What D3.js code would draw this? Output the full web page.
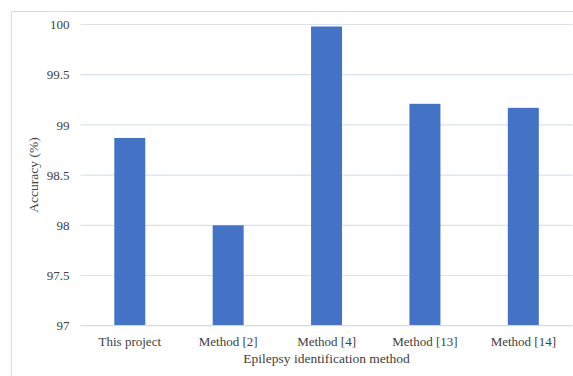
<!DOCTYPE html>
<html>
<head>
<meta charset="utf-8">
<script src="https://cdn.jsdelivr.net/npm/d3@7"></script>
<style>
  html, body { margin: 0; padding: 0; background: #fff; }
  svg { display: block; }
</style>
</head>
<body>
<svg id="chart" width="573" height="376"></svg>
<script>
// Accuracy of epilepsy identification methods
const categories = ["This project", "Method [2]", "Method [4]", "Method [13]", "Method [14]"];
const accuracy = [98.87, 98.0, 99.98, 99.21, 99.17];
const yTicks = [97, 97.5, 98, 98.5, 99, 99.5, 100];

const width = 573, height = 376;
const margin = { top: 24.5, right: 0.5, bottom: 50.3, left: 80.6 };
const FONT = "'Liberation Serif', 'Times New Roman', serif";
const TEXT_COLOR = "#404040";
const svg = d3.select("#chart");

// chart frame
svg.append("path")
  .attr("d", `M11.5,${height} V11.5 H${width}`)
  .attr("fill", "none")
  .attr("stroke", "#d9d9d9")
  .attr("stroke-width", 1);

const x = d3.scaleBand()
  .domain(categories)
  .range([margin.left, width - margin.right])
  .paddingInner(0.685)
  .paddingOuter(0.3425);

const y = d3.scaleLinear()
  .domain([97, 100])
  .range([height - margin.bottom, margin.top]);

// gridlines
svg.append("g")
  .selectAll("line")
  .data(yTicks.filter(t => t !== 97))
  .join("line")
  .attr("x1", margin.left)
  .attr("x2", width - margin.right)
  .attr("y1", d => y(d))
  .attr("y2", d => y(d))
  .attr("stroke", "#d9e1f2")
  .attr("stroke-width", 1.2);

// y tick labels
const yAxis = d3.axisLeft(y).tickValues(yTicks).tickSize(0).tickPadding(11)
  .tickFormat(d => d3.format("")(d));
const gy = svg.append("g")
  .attr("transform", `translate(${margin.left},0)`)
  .call(yAxis);
gy.select(".domain").remove();
gy.selectAll("text")
  .style("font-family", FONT)
  .style("font-size", "13px")
  .style("fill", TEXT_COLOR);

// bars
svg.append("g")
  .selectAll("rect")
  .data(accuracy)
  .join("rect")
  .attr("x", (d, i) => x(categories[i]))
  .attr("width", x.bandwidth())
  .attr("y", d => y(d))
  .attr("height", d => y(97) - y(d))
  .attr("fill", "#4472c4");

// category axis line
svg.append("line")
  .attr("x1", margin.left)
  .attr("x2", width - margin.right)
  .attr("y1", y(97))
  .attr("y2", y(97))
  .attr("stroke", "#d9d9d9")
  .attr("stroke-width", 1.2);

// x tick labels
const xAxis = d3.axisBottom(x).tickSize(0).tickPadding(11);
const gx = svg.append("g")
  .attr("transform", `translate(0,${y(97)})`)
  .call(xAxis);
gx.select(".domain").remove();
gx.selectAll("text")
  .style("font-family", FONT)
  .style("font-size", "13px")
  .style("fill", TEXT_COLOR);

// axis titles
svg.append("text")
  .attr("x", (margin.left + width - margin.right) / 2)
  .attr("y", 363)
  .attr("text-anchor", "middle")
  .style("font-family", FONT)
  .style("font-size", "13.5px")
  .style("fill", TEXT_COLOR)
  .text("Epilepsy identification method");

svg.append("text")
  .attr("transform", `translate(38,175) rotate(-90)`)
  .attr("text-anchor", "middle")
  .style("font-family", FONT)
  .style("font-size", "13.5px")
  .style("fill", TEXT_COLOR)
  .text("Accuracy (%)");
</script>
</body>
</html>
